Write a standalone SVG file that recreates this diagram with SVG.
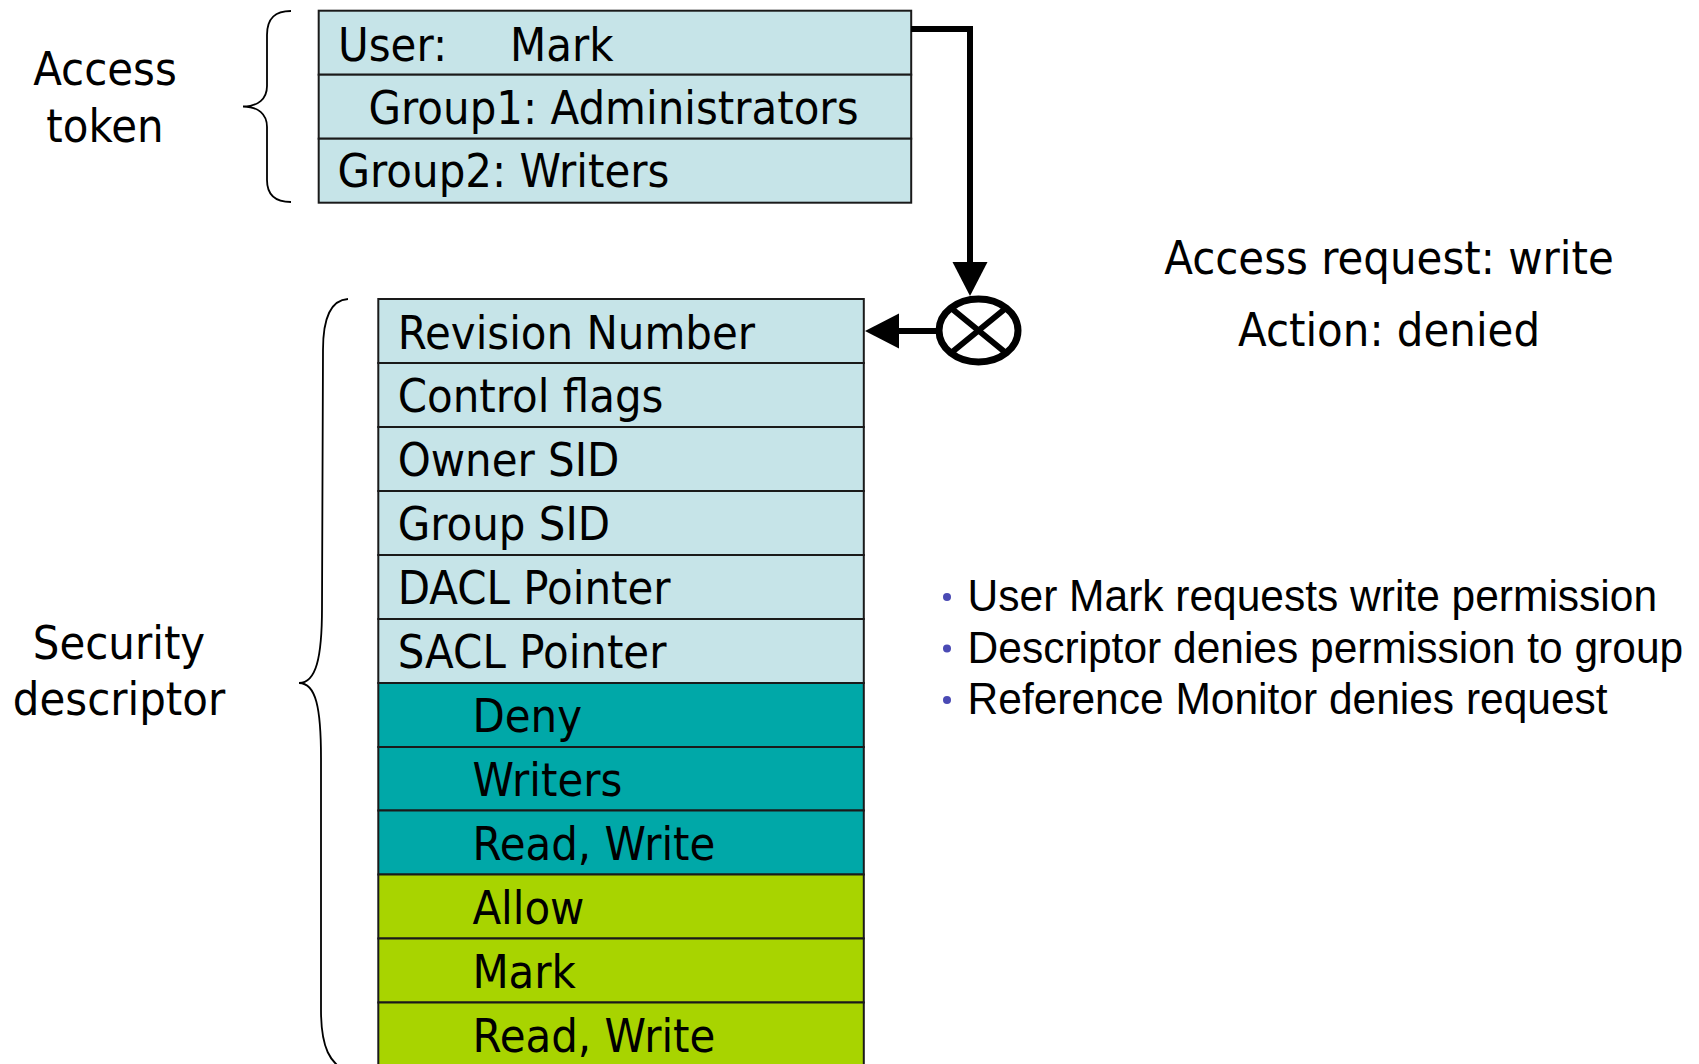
<svg xmlns="http://www.w3.org/2000/svg" width="1699" height="1064" viewBox="0 0 1699 1064">
<style>
.t{font-family:"DejaVu Sans",Verdana,sans-serif;font-size:42px;fill:#000;transform-box:fill-box;transform-origin:0 79.7%;transform:scaleY(1.1)}
.b{font-family:"Liberation Sans",Arial,sans-serif;font-size:42.5px;fill:#000;transform-box:fill-box;transform-origin:0 81%;transform:scaleY(1.06)}
.cell{stroke:#1a1a1a;stroke-width:2}
.lb{fill:#C6E4E8}
.tl{fill:#00A8A8}
.gr{fill:#A8D400}
.brace{fill:none;stroke:#000;stroke-width:1.8}
.conn{fill:none;stroke:#000;stroke-width:6}
.dot{fill:#4A4AB4}
</style>
<defs>
<marker id="ah" markerUnits="userSpaceOnUse" markerWidth="40" markerHeight="40" refX="0" refY="0" viewBox="0 -20 40 40" orient="auto" overflow="visible">
<path d="M0,-17.5 L34,0 L0,17.5 Z" fill="#000"/>
</marker>
</defs>
<rect width="1699" height="1064" fill="#fff"/>

<g id="access-token-label">
<text class="t" x="105" y="85" text-anchor="middle">Access</text>
<text class="t" x="105" y="141.7" text-anchor="middle">token</text>
<path class="brace" d="M291,11 C276,11 267,17 267,35 L267,86 C267,99 258,106.5 243,106.5 C258,106.5 267,114 267,127 L267,180 C267,196 276,202 291,202"/>
</g>

<g id="access-token">
<rect class="cell lb" x="318.7" y="10.7" width="592.5" height="64"/>
<rect class="cell lb" x="318.7" y="74.7" width="592.5" height="64"/>
<rect class="cell lb" x="318.7" y="138.7" width="592.5" height="64"/>
<text class="t" x="338" y="60.5">User:<tspan x="510">Mark</tspan></text>
<text class="t" x="368.5" y="123.5">Group1: Administrators</text>
<text class="t" x="337.5" y="186.5">Group2: Writers</text>
</g>

<g id="security-descriptor-label">
<text class="t" x="119" y="659" text-anchor="middle">Security</text>
<text class="t" x="119" y="715" text-anchor="middle">descriptor</text>
<path class="brace" d="M348,299 C331,300 323,318 323,350 L322,608 C322,658 316,683 299,683 C316,683 321,708 321,758 L321,1010 C321,1048 330,1064 348,1072"/>
</g>

<g id="security-descriptor">
<rect class="cell lb" x="378.3" y="299" width="485.5" height="64"/>
<rect class="cell lb" x="378.3" y="363" width="485.5" height="64"/>
<rect class="cell lb" x="378.3" y="427" width="485.5" height="64"/>
<rect class="cell lb" x="378.3" y="491" width="485.5" height="64"/>
<rect class="cell lb" x="378.3" y="555" width="485.5" height="64"/>
<rect class="cell lb" x="378.3" y="619" width="485.5" height="64"/>
<rect class="cell tl" x="378.3" y="683" width="485.5" height="64"/>
<rect class="cell tl" x="378.3" y="747" width="485.5" height="63.5"/>
<rect class="cell tl" x="378.3" y="810.5" width="485.5" height="64"/>
<rect class="cell gr" x="378.3" y="874.5" width="485.5" height="64"/>
<rect class="cell gr" x="378.3" y="938.5" width="485.5" height="64"/>
<rect class="cell gr" x="378.3" y="1002.5" width="485.5" height="70"/>
<text class="t" x="397.7" y="348.5">Revision Number</text>
<text class="t" x="397.7" y="412">Control flags</text>
<text class="t" x="397.7" y="476">Owner SID</text>
<text class="t" x="397.7" y="540">Group SID</text>
<text class="t" x="397.7" y="604">DACL Pointer</text>
<text class="t" x="397.7" y="668">SACL Pointer</text>
<text class="t" x="472.4" y="732">Deny</text>
<text class="t" x="472.4" y="795.5">Writers</text>
<text class="t" x="472.4" y="859.5">Read, Write</text>
<text class="t" x="472.4" y="923.5">Allow</text>
<text class="t" x="472.4" y="987.5">Mark</text>
<text class="t" x="472.4" y="1051.5">Read, Write</text>
</g>

<g id="reference-monitor">
<ellipse cx="978.5" cy="330.5" rx="39.5" ry="31.5" fill="#fff" stroke="#000" stroke-width="7"/>
<path d="M951,308 L1006,353 M1006,308 L951,353" stroke="#000" stroke-width="6" fill="none"/>
</g>

<g id="connectors">
<path class="conn" d="M911,29 H970 V262" marker-end="url(#ah)"/>
<path class="conn" d="M939,331 H899" marker-end="url(#ah)"/>
</g>

<g id="result">
<text class="t" x="1389" y="274" text-anchor="middle">Access request: write</text>
<text class="t" x="1389" y="346" text-anchor="middle">Action: denied</text>
</g>

<g id="notes">
<circle class="dot" cx="947" cy="597" r="4"/>
<circle class="dot" cx="947" cy="648.5" r="4"/>
<circle class="dot" cx="947" cy="700" r="4"/>
<text class="b" x="967.6" y="611">User Mark requests write permission</text>
<text class="b" x="967.6" y="662.5">Descriptor denies permission to group</text>
<text class="b" x="967.6" y="714">Reference Monitor denies request</text>
</g>
</svg>
